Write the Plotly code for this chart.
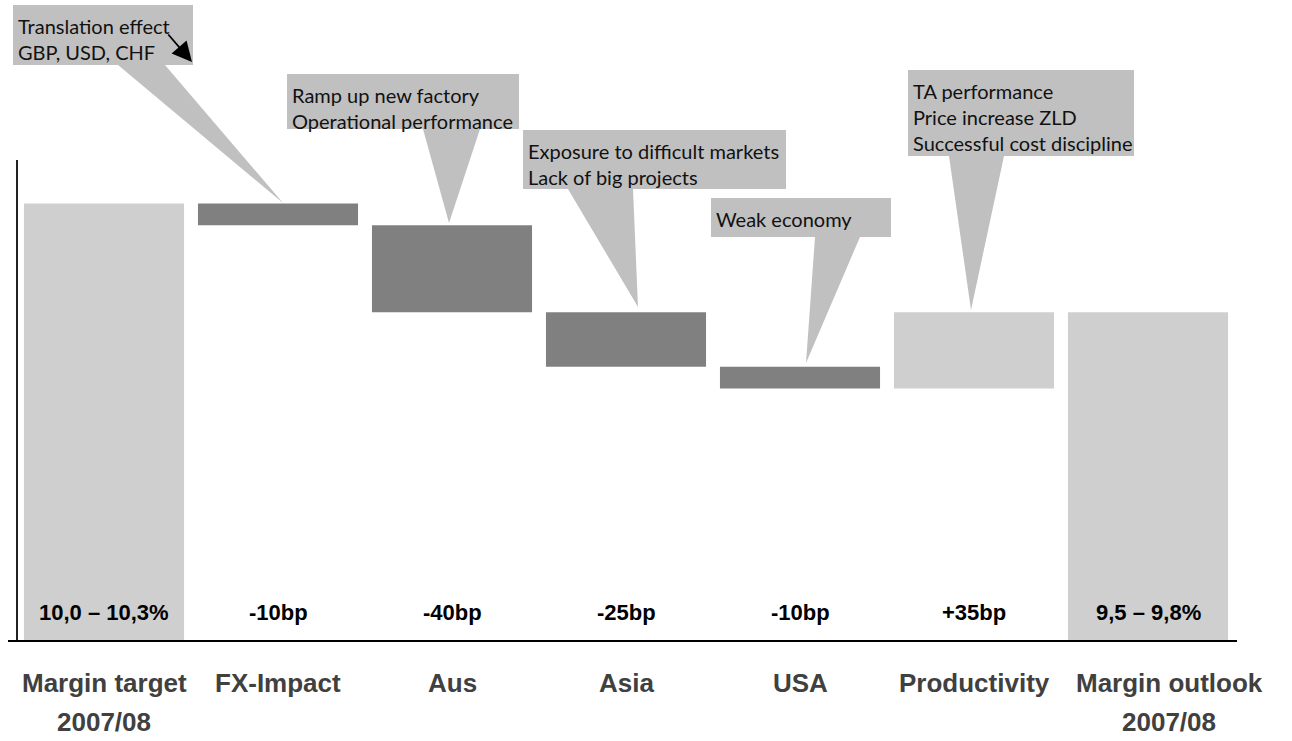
import plotly.graph_objects as go

# ---------------- data ----------------
CATEGORIES = ["Margin target", "FX-Impact", "Aus", "Asia", "USA", "Productivity", "Margin outlook"]
CATEGORY_SUBLABELS = ["2007/08", "", "", "", "", "", "2007/08"]
START_MARGIN = 10.15            # % (midpoint of 10,0 – 10,3%)
DELTAS_BP = [-10, -40, -25, -10, 35]   # basis points
VALUE_LABELS = ["10,0 – 10,3%", "-10bp", "-40bp", "-25bp", "-10bp", "+35bp", "9,5 – 9,8%"]
CALLOUT_TEXTS = [
    ["Translation effect", "GBP, USD, CHF"],
    ["Ramp up new factory", "Operational performance"],
    ["Exposure to difficult markets", "Lack of big projects"],
    ["Weak economy"],
    ["TA performance", "Price increase ZLD", "Successful cost discipline"],
]
Y_MIN, Y_MAX = 8.14, 10.35

# ---------------- layout constants (pixels) ----------------
W, H = 1292, 741
ML, MR, MT, MB = 17, 57, 160, 100
PW, PH = W - ML - MR, H - MT - MB

def px(x):
    return (x - ML) / PW

def py(y):
    return (H - MB - y) / PH

TOTAL_COLOR = "#cfcfcf"
NEG_COLOR = "#808080"
POS_COLOR = "#cfcfcf"
CALLOUT_COLOR = "#c0c0c0"

# ---------------- waterfall bars ----------------
bases, heights, colors = [], [], []
level = START_MARGIN
bases.append(0); heights.append(START_MARGIN); colors.append(TOTAL_COLOR)
for d in DELTAS_BP:
    new = level + d / 100.0
    bases.append(min(level, new))
    heights.append(abs(d) / 100.0)
    colors.append(NEG_COLOR if d < 0 else POS_COLOR)
    level = new
bases.append(0); heights.append(level); colors.append(TOTAL_COLOR)

fig = go.Figure()
fig.add_trace(go.Bar(
    x=CATEGORIES, y=heights, base=bases,
    marker=dict(color=colors, line=dict(width=0)),
    width=0.92, hoverinfo="skip", showlegend=False,
))

shapes = []
annotations = []

# axis lines
shapes.append(dict(type="line", xref="paper", yref="paper",
                   x0=px(17), x1=px(17), y0=py(160), y1=py(641),
                   line=dict(color="#222", width=2)))
shapes.append(dict(type="line", xref="paper", yref="paper",
                   x0=px(8), x1=px(1237), y0=py(641), y1=py(641),
                   line=dict(color="#000", width=2)))

# callouts: (box x0, x1, y0, y1, pointer base left, right, tip x, tip y)
CALLOUT_GEOM = [
    (13, 193, 5, 65, 118, 165, 283, 203),
    (287, 519, 74, 129, 423, 480, 449, 223),
    (523, 786, 130, 189, 568, 633, 638, 307),
    (711, 891, 198, 237, 815, 860, 806, 363),
    (908, 1134, 70, 156, 949, 1004, 971, 310),
]
for (x0, x1, y0, y1, bl, br, tx, ty), lines in zip(CALLOUT_GEOM, CALLOUT_TEXTS):
    path = (f"M {px(x0)},{py(y0)} L {px(x1)},{py(y0)} L {px(x1)},{py(y1)} "
            f"L {px(br)},{py(y1)} L {px(tx)},{py(ty)} L {px(bl)},{py(y1)} "
            f"L {px(x0)},{py(y1)} Z")
    shapes.append(dict(type="path", xref="paper", yref="paper", path=path,
                       fillcolor=CALLOUT_COLOR, line=dict(width=0), layer="above"))
    annotations.append(dict(
        xref="paper", yref="paper", x=px(x0 + 3), y=py(y0 + 7),
        xanchor="left", yanchor="top", align="left", showarrow=False,
        text="<br>".join(lines),
        font=dict(family="Lato", size=20, color="#111"),
    ))

# small arrow in first callout
annotations.append(dict(
    xref="paper", yref="paper", x=px(192), y=py(62), ax=-25, ay=-29,
    showarrow=True, arrowhead=2, arrowsize=2.2, arrowwidth=1.8,
    arrowcolor="#000", text="",
))

# value labels
for cat, lab in zip(CATEGORIES, VALUE_LABELS):
    annotations.append(dict(
        x=cat, xref="x", yref="paper", y=py(612), yanchor="middle",
        showarrow=False, text=f"<b>{lab}</b>",
        font=dict(family="Arial", size=22, color="#000"),
    ))

# category labels
for i, (cat, sub) in enumerate(zip(CATEGORIES, CATEGORY_SUBLABELS)):
    shift = 21 if i == len(CATEGORIES) - 1 else 0
    annotations.append(dict(
        x=cat, xref="x", yref="paper", y=py(683), yanchor="middle",
        xshift=shift, showarrow=False, text=f"<b>{cat}</b>",
        font=dict(family="Arial", size=26, color="#404040"),
    ))
    if sub:
        annotations.append(dict(
            x=cat, xref="x", yref="paper", y=py(722), yanchor="middle",
            xshift=shift, showarrow=False, text=f"<b>{sub}</b>",
            font=dict(family="Arial", size=26, color="#404040"),
        ))

fig.update_layout(
    width=W, height=H,
    margin=dict(l=ML, r=MR, t=MT, b=MB, pad=0),
    paper_bgcolor="white", plot_bgcolor="white",
    bargap=0.08,
    xaxis=dict(type="category", range=[-0.5, 6.5], showticklabels=False,
               showgrid=False, zeroline=False, showline=False, ticks=""),
    yaxis=dict(range=[Y_MIN, Y_MAX], showticklabels=False, showgrid=False,
               zeroline=False, showline=False, ticks=""),
    shapes=shapes,
    annotations=annotations,
)

fig.write_html("out.html")
